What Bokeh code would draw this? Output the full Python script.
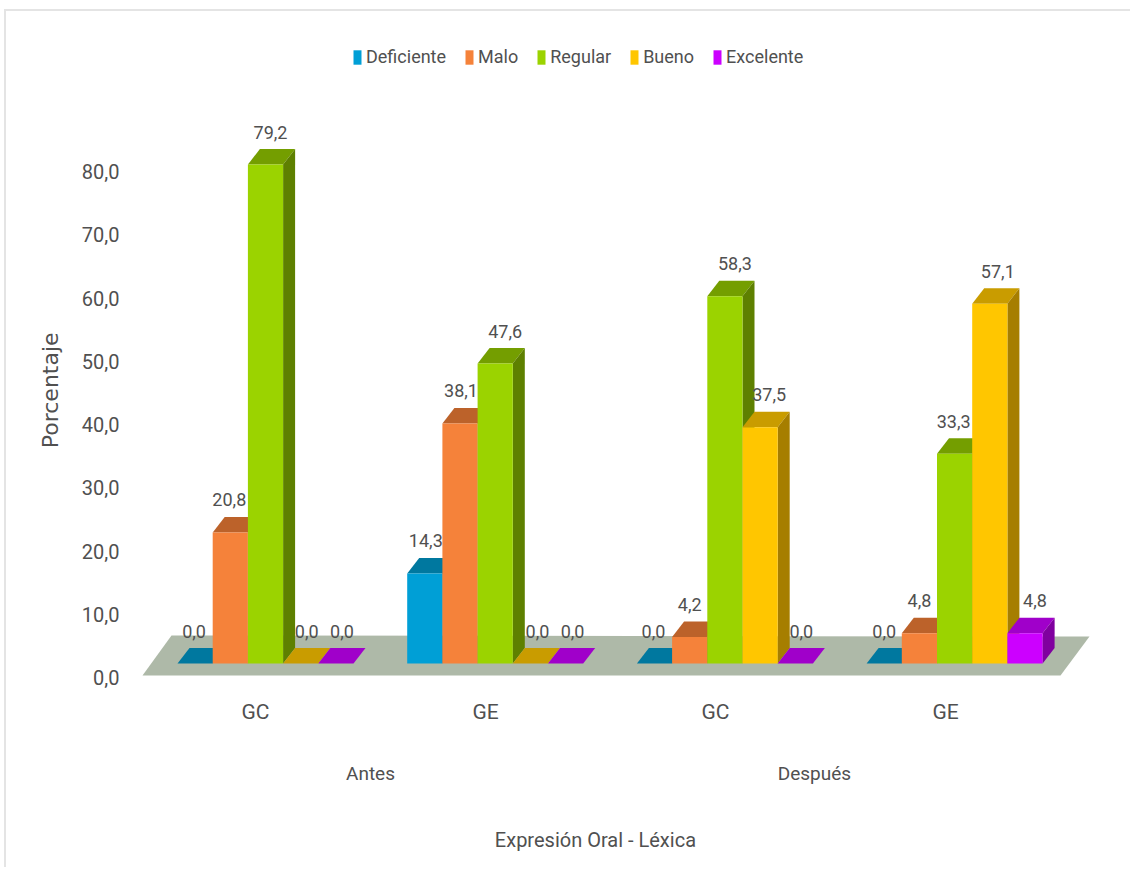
from bokeh.plotting import figure
from bokeh.models import (Range1d, LinearAxis, FixedTicker, Legend, LegendItem, ColumnDataSource)
from bokeh.core.properties import value
from bokeh.embed import file_html
from bokeh.resources import INLINE

groups = ["GC", "GE", "GC", "GE"]
periods = ["Antes", "Después"]
period_pos = [0.5, 2.43]
x_title = "Expresión Oral - Léxica"
x_title_pos = 1.478
y_title = "Porcentaje"
y_title_pos = 45.4
series = ["Deficiente", "Malo", "Regular", "Bueno", "Excelente"]
deficiente = [0.0, 14.3, 0.0, 0.0]
malo = [20.8, 38.1, 4.2, 4.8]
regular = [79.2, 47.6, 58.3, 33.3]
bueno = [0.0, 0.0, 37.5, 57.1]
excelente = [0.0, 0.0, 0.0, 4.8]
values = [deficiente, malo, regular, bueno, excelente]
front = ["#009FD6", "#F5823A", "#9BD300", "#FFC600", "#CC00FF"]
top = ["#00789F", "#BC622A", "#749E00", "#C99C00", "#A000CA"]
side = ["#006A8C", "#A45424", "#5E8000", "#A67E00", "#80009F"]
label_shift = [[-1, 1, -1, 0], [-1, 1, 0, 0], [5, 10, 10, -1], [6, 7, 9, 8], [6, 7, 6, 10]]

FONT = "Roboto"
TXT = "#505050"
OX, OY = 6, 11                        # page px of the figure's corner
W, H = 1126, 858
L, R, T, B = 128, 1095, OY, 680       # page px of the frame
GX0, GDX = 265.0, 229.7               # group centre / spacing, px
Y0, PY = 663.0, 6.3                   # px of value 0 / px per unit


def fx(px):
    return (px - GX0) / GDX


def fy(py):
    return (Y0 - py) / PY


p = figure(width=W, height=H, output_backend="svg", toolbar_location=None,
           x_range=Range1d(fx(L), fx(R)), y_range=Range1d(fy(B), fy(T)),
           min_border_left=L - OX, min_border_right=OX + W - R, min_border_top=0, min_border_bottom=OY + H - B,
           x_axis_location=None, y_axis_location=None, background_fill_color="white", border_fill_color="white")
p.margin = (9, 0, 0, 4)
p.styles = {"border-top": "2px solid #E4E4E4", "border-left": "2px solid #E4E4E4"}
p.grid.visible = False
p.outline_line_color = None

# axes have their own ranges: the original's axis sits on the front edge of the floor
p.extra_y_ranges["ax"] = Range1d((677 - B) / 6.325, (677 - T) / 6.325)
p.extra_x_ranges["ax"] = Range1d((L - 255) / 230.0, (R - 255) / 230.0)

plain = dict(axis_line_color=None, major_tick_line_color=None, minor_tick_line_color=None,
             major_label_text_font=FONT, major_label_text_color=TXT)

yaxis = LinearAxis(y_range_name="ax", ticker=FixedTicker(ticks=list(range(0, 90, 10))),
                   major_label_overrides={v: f"{v},0" for v in range(0, 90, 10)},
                   major_label_text_font_size="20px", major_label_standoff=3, **plain)
p.add_layout(yaxis, "left")
ytitle = LinearAxis(y_range_name="ax", ticker=FixedTicker(ticks=[y_title_pos]),
                    major_label_overrides={y_title_pos: y_title}, major_label_orientation="vertical",
                    major_label_standoff=9,
                    **{**plain, "major_label_text_font": "DejaVu Sans"}, major_label_text_font_size="22px")
p.add_layout(ytitle, "left")

xaxis = LinearAxis(x_range_name="ax", ticker=FixedTicker(ticks=list(range(len(groups)))),
                   major_label_overrides={i: g for i, g in enumerate(groups)},
                   major_label_text_font_size="21px", major_label_standoff=13, **plain)
p.add_layout(xaxis, "below")
xperiod = LinearAxis(x_range_name="ax", ticker=FixedTicker(ticks=period_pos),
                     major_label_overrides={x: n for x, n in zip(period_pos, periods)},
                     major_label_text_font_size="19px", major_label_standoff=29, **plain)
p.add_layout(xperiod, "below")
xtitle = LinearAxis(x_range_name="ax", ticker=FixedTicker(ticks=[x_title_pos]),
                    major_label_overrides={x_title_pos: x_title},
                    major_label_text_font_size="20px", major_label_standoff=34, **plain)
p.add_layout(xtitle, "below")

# floor
p.patch([fx(142), fx(1060), fx(1089), fx(171)], [fy(675), fy(675), fy(636), fy(635)],
        fill_color="#AEB9A8", line_color=None)

BW = 35.2 / GDX
DX = 12.0 / GDX
DY = 15.5 / PY
items = []
for j, name in enumerate(series):
    vals = values[j]
    xl = [i + (j - 2.5) * BW for i in range(len(vals))]
    xr = [x + BW for x in xl]
    p.patches([[a, b, b + DX, a + DX] for a, b in zip(xl, xr)],
              [[v, v, v + DY, v + DY] for v in vals], fill_color=top[j], line_color=None)
    p.patches([[b, b + DX, b + DX, b] for b, v in zip(xr, vals) if v > 0],
              [[0, DY, v + DY, v] for v in vals if v > 0], fill_color=side[j], line_color=None)
    src = ColumnDataSource(dict(x=[(a + b) / 2 for a, b in zip(xl, xr)], v=vals))
    r = p.vbar(x="x", top="v", bottom=0, width=BW, source=src, fill_color=front[j], line_color=None)
    items.append(LegendItem(label=name, renderers=[r]))

# value labels on top, after every bar
for j, name in enumerate(series):
    vals = values[j]
    p.text([i + (j - 2) * BW + label_shift[j][i] / GDX for i in range(len(vals))],
           [v + DY for v in vals], text=[f"{v:.1f}".replace(".", ",") for v in vals],
           y_offset=-17, text_align="center", text_baseline="middle",
           text_font=value(FONT), text_font_size="18px", text_color=TXT)

legend = Legend(items=items, orientation="horizontal", location=(352 - L, B - 67), padding=0, margin=0, spacing=18,
                border_line_color=None, background_fill_alpha=0, glyph_width=10, glyph_height=18, label_standoff=4,
                label_text_font=FONT, label_text_font_size="18px", label_text_color=TXT, label_height=18)
p.add_layout(legend, "center")

open("out.html", "w").write(file_html(p, INLINE))
